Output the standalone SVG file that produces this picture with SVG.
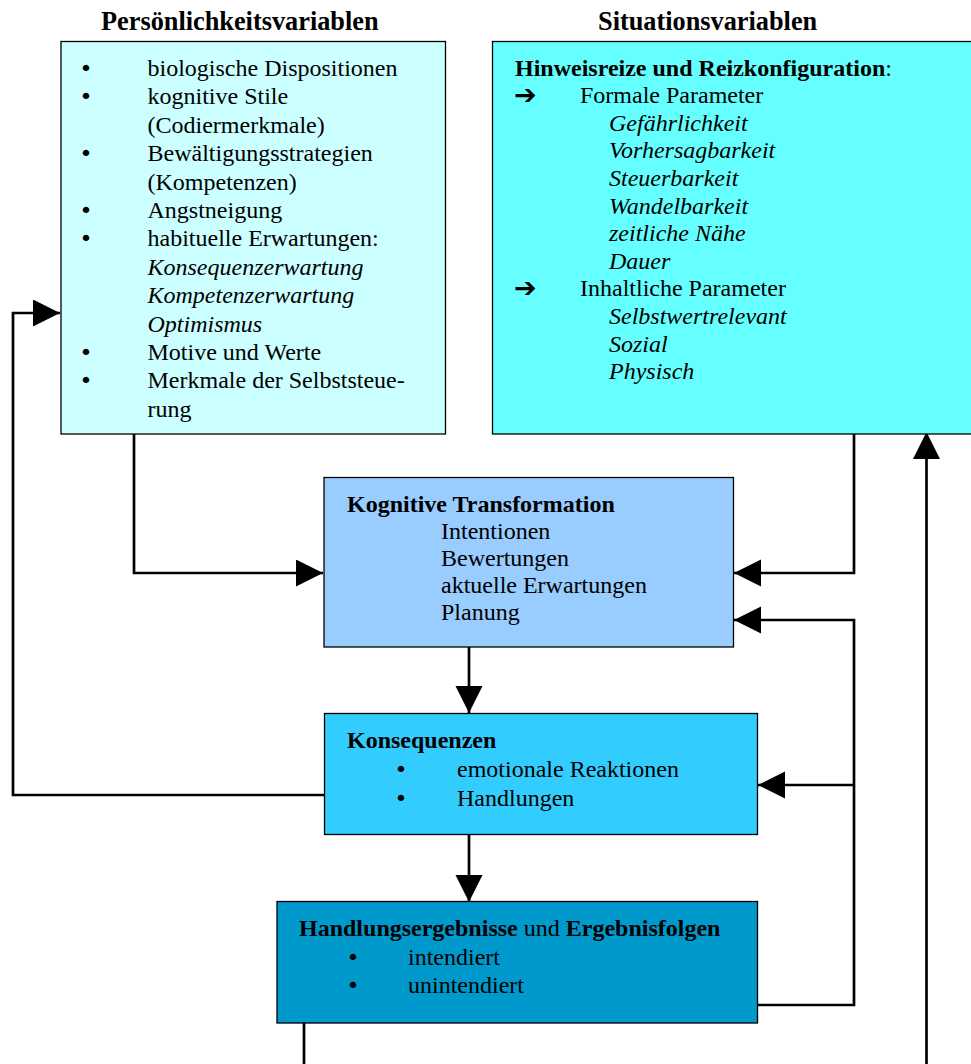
<svg xmlns="http://www.w3.org/2000/svg" width="971" height="1064" viewBox="0 0 971 1064">
<defs>
<marker id="ah" markerUnits="userSpaceOnUse" markerWidth="28" markerHeight="28" refX="27" refY="13.5" orient="auto">
<path d="M0,0 L27,13.5 L0,27 Z" fill="#000"/>
</marker>
<style>
text{font-family:"Liberation Serif","Times New Roman",serif;font-size:24px;fill:#000}
.t{font-size:26.3px;font-weight:bold}
.b{font-weight:bold}
.i{font-style:italic}
.bu{text-anchor:middle;font-family:"DejaVu Sans",sans-serif;font-size:22px}
.ar{font-family:"DejaVu Sans",sans-serif;font-size:27px;font-weight:bold}
.box{stroke:#000;stroke-width:1.3}
.c{fill:none;stroke:#000;stroke-width:2.7}
</style>
</defs>
<rect width="971" height="1064" fill="#fff"/>
<text class="t" x="101" y="30">Persönlichkeitsvariablen</text>
<text class="t" x="598" y="30">Situationsvariablen</text>

<g id="connectors">
<path class="c" d="M134,430 V573 H323" marker-end="url(#ah)"/>
<path class="c" d="M854,430 V573 H734" marker-end="url(#ah)"/>
<path class="c" d="M757,1005 H854 V620 H734" marker-end="url(#ah)"/>
<path class="c" d="M854,785 H758" marker-end="url(#ah)"/>
<path class="c" d="M469,643 V713" marker-end="url(#ah)"/>
<path class="c" d="M469,832 V902" marker-end="url(#ah)"/>
<path class="c" d="M324,795 H13 V313 H60" marker-end="url(#ah)"/>
<path class="c" d="M304,1023 V1064"/>
<path class="c" d="M926.5,1064 V432" marker-end="url(#ah)"/>
</g>

<g id="personality">
<rect class="box" x="61" y="41.5" width="384.5" height="392.5" fill="#ccffff"/>
<text class="bu" x="86" y="76">•</text><text x="147.5" y="76">biologische Dispositionen</text>
<text class="bu" x="86" y="104.4">•</text><text x="147.5" y="104.4">kognitive Stile</text>
<text x="147.5" y="132.8">(Codiermerkmale)</text>
<text class="bu" x="86" y="161.2">•</text><text x="147.5" y="161.2">Bewältigungsstrategien</text>
<text x="147.5" y="189.6">(Kompetenzen)</text>
<text class="bu" x="86" y="218">•</text><text x="147.5" y="218">Angstneigung</text>
<text class="bu" x="86" y="246.4">•</text><text x="147.5" y="246.4">habituelle Erwartungen:</text>
<text class="i" x="147.5" y="274.8">Konsequenzerwartung</text>
<text class="i" x="147.5" y="303.2">Kompetenzerwartung</text>
<text class="i" x="147.5" y="331.6">Optimismus</text>
<text class="bu" x="86" y="360">•</text><text x="147.5" y="360">Motive und Werte</text>
<text class="bu" x="86" y="388.4">•</text><text x="147.5" y="388.4">Merkmale der Selbststeue-</text>
<text x="147.5" y="416.8">rung</text>
</g>

<g id="situation">
<rect class="box" x="492.5" y="41.5" width="490" height="392.5" fill="#66ffff"/>
<text x="515" y="75.5"><tspan class="b">Hinweisreize und Reizkonfiguration</tspan>:</text>
<text class="ar" x="514" y="104">➔</text><text x="580" y="103.1">Formale Parameter</text>
<text class="i" x="609" y="130.7">Gefährlichkeit</text>
<text class="i" x="609" y="158.3">Vorhersagbarkeit</text>
<text class="i" x="609" y="185.9">Steuerbarkeit</text>
<text class="i" x="609" y="213.5">Wandelbarkeit</text>
<text class="i" x="609" y="241.1">zeitliche Nähe</text>
<text class="i" x="609" y="268.7">Dauer</text>
<text class="ar" x="514" y="297.2">➔</text><text x="580" y="296.3">Inhaltliche Parameter</text>
<text class="i" x="609" y="323.9">Selbstwertrelevant</text>
<text class="i" x="609" y="351.5">Sozial</text>
<text class="i" x="609" y="379.1">Physisch</text>
</g>

<g id="cognitive">
<rect class="box" x="324" y="477.5" width="409.5" height="169.5" fill="#99ccff"/>
<text class="b" x="347" y="512">Kognitive Transformation</text>
<text x="441" y="539">Intentionen</text>
<text x="441" y="566">Bewertungen</text>
<text x="441" y="593">aktuelle Erwartungen</text>
<text x="441" y="620">Planung</text>
</g>

<g id="consequences">
<rect class="box" x="324.5" y="713.5" width="433" height="121" fill="#33ccff"/>
<text class="b" x="347" y="747.5">Konsequenzen</text>
<text class="bu" x="401" y="777">•</text><text x="457" y="777">emotionale Reaktionen</text>
<text class="bu" x="401" y="805.5">•</text><text x="457" y="805.5">Handlungen</text>
</g>

<g id="outcomes">
<rect class="box" x="277" y="901.5" width="480.5" height="121.5" fill="#0099cc"/>
<text x="299" y="935.5"><tspan class="b">Handlungsergebnisse</tspan> und <tspan class="b">Ergebnisfolgen</tspan></text>
<text class="bu" x="353" y="964.5">•</text><text x="408" y="964.5">intendiert</text>
<text class="bu" x="353" y="993">•</text><text x="408" y="993">unintendiert</text>
</g>
</svg>
